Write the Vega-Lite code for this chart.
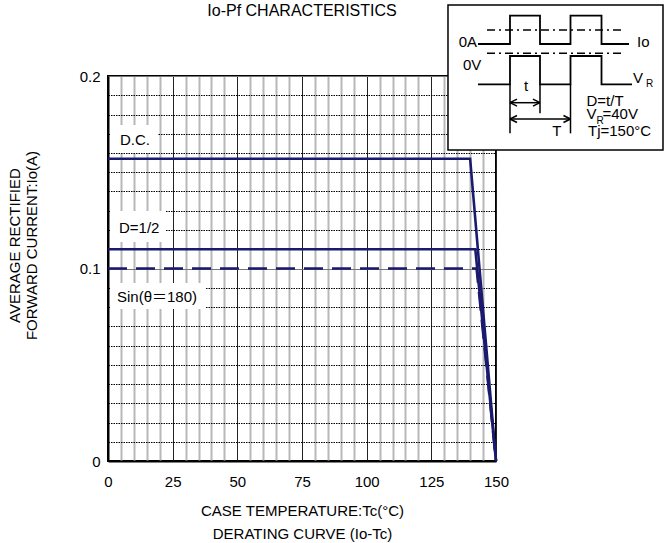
{
  "$schema": "https://vega.github.io/schema/vega-lite/v6.json",
  "width": 388,
  "height": 385,
  "autosize": {"type": "none"},
  "padding": {"left": 108, "top": 76, "right": 169, "bottom": 82},
  "background": "white",
  "title": {"text": "Io-Pf CHARACTERISTICS", "frame": "group", "anchor": "middle", "fontSize": 16, "fontWeight": "normal", "font": "Liberation Sans", "color": "black", "baseline": "alphabetic", "offset": -27.75},
  "config": {"font": "Liberation Sans", "view": {"stroke": "black", "strokeWidth": 2}},
  "encoding": {
    "x": {
      "field": "tc", "type": "quantitative",
      "scale": {"domain": [0, 150], "nice": false, "zero": false},
      "axis": {
        "values": [0,5,10,15,20,25,30,35,40,45,50,55,60,65,70,75,80,85,90,95,100,105,110,115,120,125,130,135,140,145,150],
        "grid": true,
        "gridColor": {"condition": {"test": "datum.value % 25 === 0", "value": "#222222"}, "value": "#b8b8b8"},
        "gridWidth": {"condition": {"test": "datum.value % 25 === 0", "value": 1}, "value": 2},
        "labelExpr": "datum.value % 25 === 0 ? datum.label : ''",
        "labelFlush": false, "labelOverlap": false,
        "ticks": false, "tickSize": 0, "labelPadding": 13,
        "labelFontSize": 15, "labelColor": "black",
        "domain": true, "domainColor": "black", "domainWidth": 2,
        "title": ["CASE TEMPERATURE:Tc(°C)", "DERATING CURVE (Io-Tc)"],
        "titleFontSize": 15, "titleFontWeight": "normal", "titleColor": "black",
        "titleLineHeight": 23, "titleBaseline": "middle", "titleY": 49
      }
    },
    "y": {
      "field": "io", "type": "quantitative",
      "scale": {"domain": [0, 0.2], "nice": false, "zero": false},
      "axis": {
        "values": [0,0.01,0.02,0.03,0.04,0.05,0.06,0.07,0.08,0.09,0.1,0.11,0.12,0.13,0.14,0.15,0.16,0.17,0.18,0.19,0.2],
        "format": "~g",
        "grid": true,
        "gridColor": {"condition": {"test": "abs(datum.value*10 - round(datum.value*10)) < 1e-6", "value": "#777777"}, "value": "#000000"},
        "gridDash": {"condition": {"test": "abs(datum.value*10 - round(datum.value*10)) < 1e-6", "value": []}, "value": [1.5, 1]},
        "gridWidth": 1,
        "labelExpr": "abs(datum.value*10 - round(datum.value*10)) < 1e-6 ? datum.label : ''",
        "labelFlush": false, "labelOverlap": false,
        "ticks": false, "tickSize": 0, "labelPadding": 8,
        "labelFontSize": 15, "labelColor": "black",
        "domain": true, "domainColor": "black", "domainWidth": 2,
        "title": ["AVERAGE RECTIFIED", "FORWARD CURRENT:Io(A)"],
        "titleFontSize": 15, "titleFontWeight": "normal", "titleColor": "black",
        "titleAngle": -90, "titleAlign": "center", "titleBaseline": "middle",
        "titleLineHeight": 17, "titleX": -93.5, "titleY": 169
      }
    }
  },
  "layer": [
    {
      "data": {"values": [
        {"tc": 1.16, "tc2": 19.33, "io": 0.17455, "io2": 0.16000},
        {"tc": 1.16, "tc2": 22.42, "io": 0.12987, "io2": 0.11377},
        {"tc": 1.16, "tc2": 37.89, "io": 0.09247, "io2": 0.07896}
      ]},
      "mark": {"type": "rect", "fill": "white", "strokeWidth": 0},
      "encoding": {"x2": {"field": "tc2"}, "y2": {"field": "io2"}}
    },
    {
      "data": {"values": [
        {"tc": 4.64, "io": 0.16675, "label": "D.C."},
        {"tc": 4.25, "io": 0.12088, "label": "D=1/2"},
        {"tc": 3.48, "io": 0.08535, "label": "Sin(θ＝180)"}
      ]},
      "mark": {"type": "text", "align": "left", "baseline": "middle", "fontSize": 15, "color": "black", "font": "Liberation Sans, Noto Sans CJK JP"},
      "encoding": {"text": {"field": "label"}}
    },
    {
      "data": {"values": [
        {"s": "D.C.", "tc": 0, "io": 0.157},
        {"s": "D.C.", "tc": 140, "io": 0.157},
        {"s": "D.C.", "tc": 150, "io": 0},
        {"s": "D=1/2", "tc": 0, "io": 0.11},
        {"s": "D=1/2", "tc": 142, "io": 0.11},
        {"s": "D=1/2", "tc": 150, "io": 0},
        {"s": "Sin", "tc": 0, "io": 0.1},
        {"s": "Sin", "tc": 142.5, "io": 0.1},
        {"s": "Sin", "tc": 150, "io": 0}
      ]},
      "mark": {"type": "line", "color": "#1a1a6e", "strokeWidth": 2.6},
      "encoding": {
        "detail": {"field": "s"},
        "strokeDash": {"field": "s", "type": "nominal", "scale": {"domain": ["D.C.", "D=1/2", "Sin"], "range": [[1, 0], [1, 0], [19, 9]]}, "legend": null}
      }
    },
    {
      "data": {"values": [
        {"tc": 131.44, "tc2": 214.56, "io": 0.23688, "io2": 0.16156}
      ]},
      "mark": {"type": "rect", "fill": "white", "stroke": "black", "strokeWidth": 1.5},
      "encoding": {"x2": {"field": "tc2"}, "y2": {"field": "io2"}}
    },
    {
      "data": {"values": [
        {"s": "Io", "i": 1, "tc": 143.04, "io": 0.21662},
        {"s": "Io", "i": 2, "tc": 155.41, "io": 0.21662},
        {"s": "Io", "i": 3, "tc": 155.41, "io": 0.23133},
        {"s": "Io", "i": 4, "tc": 167.01, "io": 0.23133},
        {"s": "Io", "i": 5, "tc": 167.01, "io": 0.21662},
        {"s": "Io", "i": 6, "tc": 178.80, "io": 0.21662},
        {"s": "Io", "i": 7, "tc": 178.80, "io": 0.23133},
        {"s": "Io", "i": 8, "tc": 190.79, "io": 0.23133},
        {"s": "Io", "i": 9, "tc": 190.79, "io": 0.21662},
        {"s": "Io", "i": 10, "tc": 201.42, "io": 0.21662},
        {"s": "VR", "i": 1, "tc": 143.04, "io": 0.19569},
        {"s": "VR", "i": 2, "tc": 155.41, "io": 0.19569},
        {"s": "VR", "i": 3, "tc": 155.41, "io": 0.21039},
        {"s": "VR", "i": 4, "tc": 167.01, "io": 0.21039},
        {"s": "VR", "i": 5, "tc": 167.01, "io": 0.19569},
        {"s": "VR", "i": 6, "tc": 178.80, "io": 0.19569},
        {"s": "VR", "i": 7, "tc": 178.80, "io": 0.21039},
        {"s": "VR", "i": 8, "tc": 190.79, "io": 0.21039},
        {"s": "VR", "i": 9, "tc": 190.79, "io": 0.19569},
        {"s": "VR", "i": 10, "tc": 202.58, "io": 0.19569}
      ]},
      "mark": {"type": "line", "color": "black", "strokeWidth": 1.8},
      "encoding": {"detail": {"field": "s"}, "order": {"field": "i"}}
    },
    {
      "data": {"values": [
        {"tc": 146.52, "io": 0.22390, "tc2": 199.10, "io2": 0.22390},
        {"tc": 146.52, "io": 0.21179, "tc2": 198.71, "io2": 0.21179}
      ]},
      "mark": {"type": "rule", "color": "black", "strokeWidth": 1.5, "strokeDash": [8, 4, 2, 4]},
      "encoding": {"x2": {"field": "tc2"}, "y2": {"field": "io2"}}
    },
    {
      "data": {"values": [
        {"tc": 155.41, "io": 0.19569, "tc2": 155.41, "io2": 0.17023},
        {"tc": 167.01, "io": 0.19569, "tc2": 167.01, "io2": 0.18062},
        {"tc": 178.80, "io": 0.19569, "tc2": 178.80, "io2": 0.17023},
        {"tc": 155.41, "io": 0.18613, "tc2": 167.01, "io2": 0.18613},
        {"tc": 155.41, "io": 0.17766, "tc2": 178.80, "io2": 0.17766},
        {"tc": 155.41, "io": 0.18613, "tc2": 158.12, "io2": 0.18795},
        {"tc": 155.41, "io": 0.18613, "tc2": 158.12, "io2": 0.18431},
        {"tc": 167.01, "io": 0.18613, "tc2": 164.30, "io2": 0.18795},
        {"tc": 167.01, "io": 0.18613, "tc2": 164.30, "io2": 0.18431},
        {"tc": 155.41, "io": 0.17766, "tc2": 158.12, "io2": 0.17948},
        {"tc": 155.41, "io": 0.17766, "tc2": 158.12, "io2": 0.17584},
        {"tc": 178.80, "io": 0.17766, "tc2": 176.09, "io2": 0.17948},
        {"tc": 178.80, "io": 0.17766, "tc2": 176.09, "io2": 0.17584}
      ]},
      "mark": {"type": "rule", "color": "black", "strokeWidth": 1.5},
      "encoding": {"x2": {"field": "tc2"}, "y2": {"field": "io2"}}
    },
    {
      "data": {"values": [
        {"tc": 204.51, "io": 0.21766, "label": "Io"},
        {"tc": 137.24, "io": 0.20571, "label": "0V"},
        {"tc": 202.96, "io": 0.19896, "label": "V"},
        {"tc": 184.99, "io": 0.18727, "label": "D=t/T"},
        {"tc": 184.99, "io": 0.18026, "label": "V"},
        {"tc": 191.17, "io": 0.18026, "label": "=40V"},
        {"tc": 185.57, "io": 0.17117, "label": "Tj=150°C"}
      ]},
      "mark": {"type": "text", "align": "left", "baseline": "middle", "fontSize": 15, "color": "black"},
      "encoding": {"text": {"field": "label"}}
    },
    {
      "data": {"values": [
        {"tc": 142.65, "io": 0.21766, "label": "0A"}
      ]},
      "mark": {"type": "text", "align": "right", "baseline": "middle", "fontSize": 15, "color": "black"},
      "encoding": {"text": {"field": "label"}}
    },
    {
      "data": {"values": [
        {"tc": 161.60, "io": 0.19455, "label": "t"},
        {"tc": 173.47, "io": 0.17117, "label": "T"}
      ]},
      "mark": {"type": "text", "align": "center", "baseline": "middle", "fontSize": 15, "color": "black"},
      "encoding": {"text": {"field": "label"}}
    },
    {
      "data": {"values": [
        {"tc": 207.99, "io": 0.19584, "label": "R"},
        {"tc": 188.85, "io": 0.17662, "label": "R"}
      ]},
      "mark": {"type": "text", "align": "left", "baseline": "middle", "fontSize": 10, "color": "black"},
      "encoding": {"text": {"field": "label"}}
    }
  ]
}
